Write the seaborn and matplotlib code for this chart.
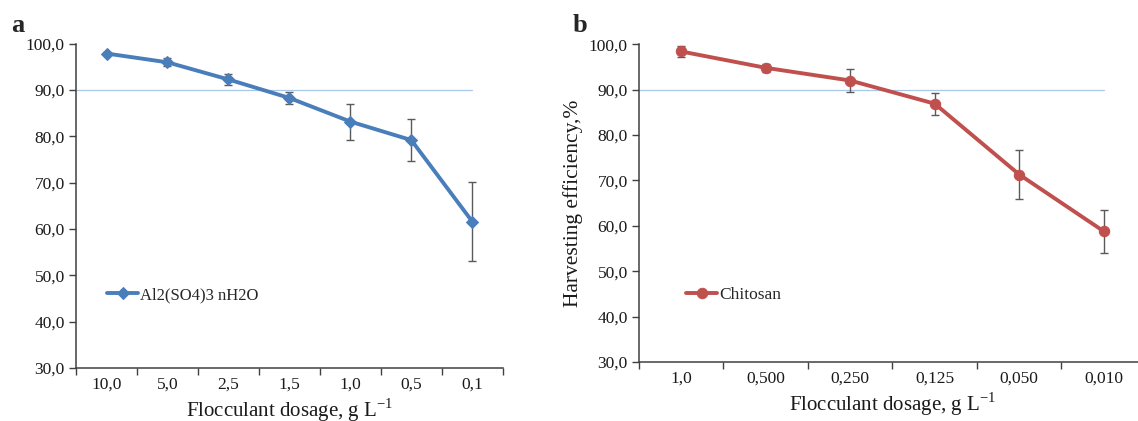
import numpy as np
import pandas as pd
import matplotlib
matplotlib.use("Agg")
import matplotlib.pyplot as plt
from matplotlib.ticker import FixedLocator, FuncFormatter
import seaborn as sns

# panel a - aluminium sulphate
al_dose = ["10,0", "5,0", "2,5", "1,5", "1,0", "0,5", "0,1"]
al_eff = [97.9, 96.0, 92.3, 88.3, 83.2, 79.2, 61.6]
al_err = [0.4, 0.9, 1.1, 1.3, 3.9, 4.6, 8.5]

# panel b - chitosan
ch_dose = ["1,0", "0,500", "0,250", "0,125", "0,050", "0,010"]
ch_eff = [98.4, 94.8, 92.0, 86.9, 71.3, 58.8]
ch_err = [1.2, 0.9, 2.6, 2.4, 5.4, 4.7]

y_ticks = [30, 40, 50, 60, 70, 80, 90, 100]

sns.set_style("white")
plt.rcParams['font.family'] = ['Liberation Serif', 'DejaVu Serif']
plt.rcParams['mathtext.fontset'] = 'custom'
plt.rcParams['mathtext.rm'] = 'Liberation Serif'

fig = plt.figure(figsize=(11.38, 4.21), dpi=100)
ax_a = fig.add_axes([0.0668, 0.126, 0.375, 0.770])
ax_b = fig.add_axes([0.5615, 0.140, 0.4455, 0.755])


def draw_panel(ax, doses, eff, err, color, marker, label, msize):
    df = pd.DataFrame({"x": np.arange(len(doses)), "eff": eff})
    n = len(doses)
    # 90 % reference line
    ax.plot([-0.5, n - 1], [90, 90], color="#a9c8e8", lw=0.9, zorder=1)
    ax.errorbar(df["x"], df["eff"], yerr=err, fmt="none", ecolor="#5a5a5a",
                elinewidth=1.0, capsize=3, capthick=1.0, zorder=2)
    sns.lineplot(data=df, x="x", y="eff", ax=ax, color=color, lw=2.8,
                 marker=marker, markersize=msize, markeredgecolor=color,
                 label=label, zorder=3)
    ax.set_xlim(-0.5, n - 0.5)
    ax.set_ylim(30, 100)
    ax.set_yticks(y_ticks)
    ax.yaxis.set_major_formatter(FuncFormatter(lambda v, p: f"{v:.1f}".replace(".", ",")))
    # tick marks on category boundaries, labels at category centres
    ax.xaxis.set_major_locator(FixedLocator(np.arange(n + 1) - 0.5))
    ax.xaxis.set_minor_locator(FixedLocator(np.arange(n)))
    ax.set_xticklabels([""] * (n + 1))
    ax.set_xticklabels(doses, minor=True)
    ax.tick_params(axis="x", which="major", direction="out", length=5, width=1,
                   color="#404040", bottom=True)
    ax.tick_params(axis="x", which="minor", length=0, pad=6, labelsize=12.5,
                   labelcolor="#1a1a1a")
    ax.tick_params(axis="y", direction="out", length=5, width=1, color="#404040",
                   left=True, labelsize=12.5, labelcolor="#1a1a1a", pad=3)
    for s in ["top", "right"]:
        ax.spines[s].set_visible(False)
    for s in ["left", "bottom"]:
        ax.spines[s].set_color("#404040")
        ax.spines[s].set_linewidth(1.1)
    ax.set_xlabel("Flocculant dosage, g L$^{-1}$", fontsize=15, labelpad=3,
                  color="#1a1a1a")
    ax.set_ylabel("")


draw_panel(ax_a, al_dose, al_eff, al_err, "#4a7ebb", "D", "Al2(SO4)3 nH2O", 6.5)
draw_panel(ax_b, ch_dose, ch_eff, ch_err, "#c0504d", "o", "Chitosan", 7.5)

ax_b.set_ylabel("Harvesting efficiency,%", fontsize=15.5, color="#1a1a1a", labelpad=4)

ax_a.legend(loc="center left", bbox_to_anchor=(0.072, 0.225), frameon=False,
            fontsize=12, handlelength=1.9, handletextpad=0.1, borderpad=0,
            borderaxespad=0)
ax_b.legend(loc="center left", bbox_to_anchor=(0.093, 0.21), frameon=False,
            fontsize=12.5, handlelength=1.8, handletextpad=0.1, borderpad=0,
            borderaxespad=0)

fig.text(0.010, 0.94, "a", fontsize=19, fontweight="bold", va="center")
fig.text(0.503, 0.94, "b", fontsize=19, fontweight="bold", va="center")

fig.savefig("out.png", dpi=100)
